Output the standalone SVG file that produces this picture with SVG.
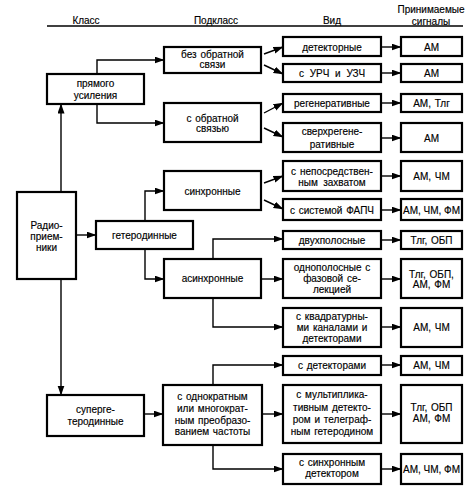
<svg xmlns="http://www.w3.org/2000/svg" width="474" height="493" viewBox="0 0 474 493">
<defs>
<marker id="a" markerUnits="userSpaceOnUse" markerWidth="10" markerHeight="8" refX="9.5" refY="3.5" orient="auto">
<path d="M0,0 L10,3.5 L0,7 z" fill="#000"/>
</marker>
<style>
.box{fill:#fff;stroke:#000;stroke-width:2.2}
.ln{fill:none;stroke:#000;stroke-width:1.4;marker-end:url(#a)}
text{font-family:"Liberation Sans",Arial,sans-serif;font-size:10px;fill:#000;stroke:#000;stroke-width:0.15;text-anchor:middle;dominant-baseline:central;word-spacing:1px}
.h{font-size:10px}
</style>
</defs>
<rect width="474" height="493" fill="#fff"/>
<g id="header">
<text class="h" x="86" y="20">Класс</text>
<text class="h" x="216" y="20">Подкласс</text>
<text class="h" x="332" y="20">Вид</text>
<text class="h" x="431" y="9">Принимаемые</text>
<text class="h" x="431" y="21">сигналы</text>
<line x1="47" y1="26" x2="463" y2="26" stroke="#000" stroke-width="1.5"/>
</g>
<g id="connectors">
<path class="ln" d="M61,192 V104"/>
<path class="ln" d="M61,279 V395"/>
<path class="ln" d="M76,235 H96"/>
<path class="ln" d="M97,74 V60 H164"/>
<path class="ln" d="M97,104 V123 H164"/>
<path class="ln" d="M264,54 L283,47"/>
<path class="ln" d="M264,65 L283,74"/>
<path class="ln" d="M264,113 L283,103"/>
<path class="ln" d="M264,128 L283,137"/>
<path class="ln" d="M264,183 L283,176"/>
<path class="ln" d="M264,200 L283,209"/>
<path class="ln" d="M145,221 V191 H164"/>
<path class="ln" d="M145,249 V279 H164"/>
<path class="ln" d="M213,259 V239 H283"/>
<path class="ln" d="M261,279 H283"/>
<path class="ln" d="M213,298 V327 H283"/>
<path class="ln" d="M144,414 H163"/>
<path class="ln" d="M213,385 V365 H283"/>
<path class="ln" d="M262,414 H283"/>
<path class="ln" d="M213,445 V469 H283"/>
<path class="ln" d="M381,47 H401"/>
<path class="ln" d="M381,73 H401"/>
<path class="ln" d="M381,103 H401"/>
<path class="ln" d="M381,138 H401"/>
<path class="ln" d="M381,176 H401"/>
<path class="ln" d="M381,210 H401"/>
<path class="ln" d="M381,240 H401"/>
<path class="ln" d="M381,279 H401"/>
<path class="ln" d="M381,327 H401"/>
<path class="ln" d="M381,365 H401"/>
<path class="ln" d="M381,414 H401"/>
<path class="ln" d="M381,469 H401"/>
</g>
<g id="n-radio"><rect class="box" x="17" y="192" width="59" height="87"/>
<text x="46.5" y="225">Радио-</text><text x="46.5" y="236">прием-</text><text x="46.5" y="247">ники</text></g>
<g id="n-pryamogo"><rect class="box" x="47" y="74" width="97" height="30"/>
<text x="95.5" y="83">прямого</text><text x="95.5" y="95">усиления</text></g>
<g id="n-geterodin"><rect class="box" x="96" y="221" width="97" height="28"/>
<text x="144.5" y="235">гетеродинные</text></g>
<g id="n-superget"><rect class="box" x="47" y="395" width="97" height="41"/>
<text x="95.5" y="409">суперге-</text><text x="95.5" y="421">теродинные</text></g>
<g id="n-bez"><rect class="box" x="164" y="47" width="97" height="26"/>
<text x="212.5" y="54">без обратной</text><text x="212.5" y="64">связи</text></g>
<g id="n-sobr"><rect class="box" x="164" y="103" width="97" height="39"/>
<text x="212.5" y="118">с обратной</text><text x="212.5" y="128">связью</text></g>
<g id="n-sinhr"><rect class="box" x="164" y="171" width="97" height="39"/>
<text x="212.5" y="191">синхронные</text></g>
<g id="n-asinhr"><rect class="box" x="164" y="259" width="97" height="39"/>
<text x="212.5" y="278">асинхронные</text></g>
<g id="n-odnokr"><rect class="box" x="163" y="385" width="99" height="60"/>
<text x="212.5" y="396">с однократным</text><text x="212.5" y="408">или многократ-</text><text x="212.5" y="420">ным преобразо-</text><text x="212.5" y="431">ванием частоты</text></g>
<g id="v1"><rect class="box" x="283" y="37" width="98" height="19"/><text x="332" y="47">детекторные</text></g>
<g id="v2"><rect class="box" x="283" y="64" width="98" height="18"/><text x="332" y="73" style="word-spacing:3px">с УРЧ и УЗЧ</text></g>
<g id="v3"><rect class="box" x="283" y="94" width="98" height="18"/><text x="332" y="103">регенеративные</text></g>
<g id="v4"><rect class="box" x="283" y="123" width="98" height="29"/><text x="332" y="131">сверхрегене-</text><text x="332" y="144">ративные</text></g>
<g id="v5"><rect class="box" x="283" y="161" width="98" height="30"/><text x="332" y="171">с непосредствен-</text><text x="332" y="182" style="word-spacing:2.5px">ным захватом</text></g>
<g id="v6"><rect class="box" x="283" y="199" width="98" height="21"/><text x="332" y="210">с системой ФАПЧ</text></g>
<g id="v7"><rect class="box" x="283" y="231" width="98" height="18"/><text x="332" y="240">двухполосные</text></g>
<g id="v8"><rect class="box" x="283" y="259" width="98" height="39"/><text x="332" y="267">однополосные с</text><text x="332" y="278">фазовой се-</text><text x="332" y="289">лекцией</text></g>
<g id="v9"><rect class="box" x="283" y="308" width="98" height="39"/><text x="332" y="316">с квадратурны-</text><text x="332" y="327">ми каналами и</text><text x="332" y="338">детекторами</text></g>
<g id="v10"><rect class="box" x="283" y="356" width="98" height="19"/><text x="332" y="365">с детекторами</text></g>
<g id="v11"><rect class="box" x="283" y="385" width="98" height="58"/><text x="332" y="394">с мультиплика-</text><text x="332" y="407">тивным детекто-</text><text x="332" y="419">ром и телеграф-</text><text x="332" y="431">ным гетеродином</text></g>
<g id="v12"><rect class="box" x="283" y="454" width="98" height="30"/><text x="332" y="462">с синхронным</text><text x="332" y="473">детектором</text></g>
<g id="s1"><rect class="box" x="401" y="37" width="61" height="19"/><text x="431.5" y="47">АМ</text></g>
<g id="s2"><rect class="box" x="401" y="64" width="61" height="18"/><text x="431.5" y="73">АМ</text></g>
<g id="s3"><rect class="box" x="401" y="94" width="61" height="18"/><text x="431.5" y="103">АМ, Тлг</text></g>
<g id="s4"><rect class="box" x="401" y="123" width="61" height="29"/><text x="431.5" y="138">АМ</text></g>
<g id="s5"><rect class="box" x="401" y="161" width="61" height="30"/><text x="431.5" y="176">АМ, ЧМ</text></g>
<g id="s6"><rect class="box" x="401" y="199" width="61" height="21"/><text x="431.5" y="210" style="word-spacing:0">АМ, ЧМ, ФМ</text></g>
<g id="s7"><rect class="box" x="401" y="231" width="61" height="18"/><text x="431.5" y="240">Тлг, ОБП</text></g>
<g id="s8"><rect class="box" x="401" y="259" width="61" height="39"/><text x="431.5" y="274">Тлг, ОБП,</text><text x="431.5" y="284">АМ, ФМ</text></g>
<g id="s9"><rect class="box" x="401" y="308" width="61" height="39"/><text x="431.5" y="327">АМ, ЧМ</text></g>
<g id="s10"><rect class="box" x="401" y="356" width="61" height="19"/><text x="431.5" y="365">АМ, ЧМ</text></g>
<g id="s11"><rect class="box" x="401" y="385" width="61" height="58"/><text x="431.5" y="407">Тлг, ОБП</text><text x="431.5" y="418">АМ, ФМ</text></g>
<g id="s12"><rect class="box" x="401" y="454" width="61" height="30"/><text x="431.5" y="469" style="word-spacing:0">АМ, ЧМ, ФМ</text></g>
</svg>
